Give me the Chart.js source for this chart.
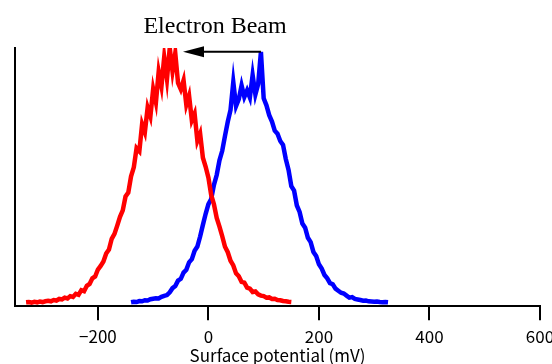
<!DOCTYPE html>
<html>
<head>
<meta charset="utf-8">
<script src="https://cdn.jsdelivr.net/npm/chart.js@4/dist/chart.umd.min.js"></script>
<style>
    html, body { margin: 0; padding: 0; background: #fff; }
    #wrap { width: 552px; height: 364px; }
</style>
</head>
<body>
<div id="wrap"><canvas id="potentialChart"></canvas></div>
<script>
// Surface potential histograms before / after electron beam

const redMv = [
    -330, -325, -320, -315, -310, -305, -300, -295, -290, -285, -280, -275, -270, -265, -260, -255,
    -250, -245, -240, -235, -230, -225, -220, -215, -210, -205, -200, -195, -190, -185, -180, -175,
    -170, -165, -160, -155, -150, -145, -140, -135, -130, -125, -120, -115, -110, -105, -100, -95,
    -90, -85, -80, -75, -70, -65, -60, -55, -50, -45, -40, -35, -30, -25, -20, -15,
    -10, -5, 0, 5, 10, 15, 20, 25, 30, 35, 40, 45, 50, 55, 60, 65,
    70, 75, 80, 85, 90, 95, 100, 105, 110, 115, 120, 125, 130, 135, 140, 145, 150
];
const redCounts = [
    1.5, 1.6, 1.4, 1.7, 1.5, 1.8, 1.6, 1.9, 2.1, 1.9, 2.4, 2.2, 2.8, 2.6, 3.3, 3.0,
    3.9, 3.6, 4.8, 4.4, 6.2, 5.8, 7.9, 8.6, 10.8, 11.5, 14.2, 15.6, 17.3, 20.4, 21.9, 26.1,
    28.0, 31.2, 34.6, 37.1, 42.5, 44.0, 50.3, 53.8, 61.2, 60.0, 70.5, 67.4, 76.9, 73.5, 84.1, 79.0,
    90.8, 85.2, 96.5, 88.0, 100.0, 91.0, 98.0, 86.5, 84.0, 87.5, 78.0, 81.5, 72.0, 74.6, 64.0, 66.8,
    57.5, 54.0, 49.8, 43.1, 39.5, 34.2, 30.8, 27.1, 23.0, 20.9, 17.6, 15.8, 12.7, 11.6, 9.4, 9.1,
    7.2, 6.8, 5.5, 5.7, 4.6, 4.1, 3.9, 3.3, 3.4, 2.8, 2.9, 2.4, 2.3, 2.0, 1.9, 1.7, 1.6
];

const blueMv = [
    -140, -135, -130, -125, -120, -115, -110, -105, -100, -95, -90, -85, -80, -75, -70, -65,
    -60, -55, -50, -45, -40, -35, -30, -25, -20, -15, -10, -5, 0, 5, 10, 15,
    20, 25, 30, 35, 40, 45, 50, 55, 60, 65, 70, 75, 80, 85, 90, 95,
    100, 105, 110, 115, 120, 125, 130, 135, 140, 145, 150, 155, 160, 165, 170, 175,
    180, 185, 190, 195, 200, 205, 210, 215, 220, 225, 230, 235, 240, 245, 250, 255,
    260, 265, 270, 275, 280, 285, 290, 295, 300, 305, 310, 315, 320, 325
];
const blueCounts = [
    1.5, 1.7, 1.6, 2.0, 1.9, 2.3, 2.2, 2.7, 2.9, 3.1, 3.0, 3.6, 4.0, 4.3, 5.4, 7.0,
    7.8, 9.9, 10.6, 13.0, 14.1, 17.0, 18.2, 21.5, 23.1, 27.0, 31.5, 35.8, 39.5, 41.5, 47.0, 50.8,
    56.5, 60.2, 66.0, 71.4, 76.0, 86.8, 77.5, 80.2, 85.5, 81.0, 83.6, 80.8, 89.5, 82.0, 86.0, 98.5,
    80.5, 77.8, 74.0, 71.5, 68.0, 66.8, 64.0, 62.5, 57.0, 52.8, 46.5, 44.8, 39.0, 36.5, 32.0, 30.4,
    26.5, 24.8, 21.0, 19.4, 16.2, 14.6, 12.1, 10.8, 8.9, 8.5, 6.8, 6.0, 5.2, 4.9, 4.1, 3.3,
    3.5, 2.8, 2.6, 2.4, 2.1, 2.2, 1.9, 1.8, 1.7, 1.8, 1.6, 1.5, 1.6, 1.5
];

const xTicks = [-200, 0, 200, 400, 600];

// arrow: from blue spike back towards red peak
const arrowFrom = { x: 95, y: 98.5 };
const arrowTo = { x: -46, y: 98.5 };
const titleText = 'Electron Beam';
const titleAtMv = 12;

function toPoints(xs, ys) {
    return xs.map((x, i) => ({ x: x, y: ys[i] }));
}

// draws the arrow and the title above the plot
const annotationPlugin = {
    id: 'beamArrow',
    afterDatasetsDraw(chart) {
        const ctx = chart.ctx;
        const xs = chart.scales.x;
        const ys = chart.scales.y;
        const x1 = xs.getPixelForValue(arrowFrom.x);
        const y1 = ys.getPixelForValue(arrowFrom.y);
        const x2 = xs.getPixelForValue(arrowTo.x);
        const y2 = ys.getPixelForValue(arrowTo.y);
        const headLen = 21;

        ctx.save();
        ctx.strokeStyle = '#000';
        ctx.fillStyle = '#000';
        ctx.lineWidth = 2;
        ctx.beginPath();
        ctx.moveTo(x1, y1);
        ctx.lineTo(x2 + headLen - 2, y2);
        ctx.stroke();
        ctx.beginPath();
        ctx.moveTo(x2, y2);
        ctx.lineTo(x2 + headLen, y2 - 5.5);
        ctx.lineTo(x2 + headLen, y2 + 5.5);
        ctx.closePath();
        ctx.fill();

        ctx.font = '24px "Liberation Serif", "Times New Roman", serif';
        ctx.textAlign = 'center';
        ctx.textBaseline = 'middle';
        ctx.fillText(titleText, xs.getPixelForValue(titleAtMv), chart.chartArea.top - 21);
        ctx.restore();
    }
};

const ctx = document.getElementById('potentialChart').getContext('2d');
const chart = new Chart(ctx, {
    type: 'line',
    data: {
        datasets: [
            {
                label: 'Before',
                data: toPoints(redMv, redCounts),
                borderColor: '#ff0000',
                borderWidth: 4.5,
                pointRadius: 0,
                tension: 0,
                fill: false
            },
            {
                label: 'After',
                data: toPoints(blueMv, blueCounts),
                borderColor: '#0000ff',
                borderWidth: 4.5,
                pointRadius: 0,
                tension: 0,
                fill: false
            }
        ]
    },
    options: {
        responsive: true,
        maintainAspectRatio: false,
        animation: false,
        layout: {
            padding: { top: 48, left: 7, right: 0, bottom: 0 }
        },
        plugins: {
            legend: { display: false },
            tooltip: { enabled: false }
        },
        scales: {
            x: {
                type: 'linear',
                min: -350,
                max: 600,
                afterBuildTicks: axis => {
                    axis.ticks = xTicks.map(v => ({ value: v }));
                },
                afterFit: axis => {
                    axis.paddingRight = 12;
                },
                grid: {
                    display: true,
                    drawOnChartArea: false,
                    drawTicks: true,
                    tickLength: 14,
                    color: '#000',
                    lineWidth: 2
                },
                border: { display: true, color: '#000', width: 2 },
                ticks: {
                    color: '#000',
                    padding: 6,
                    maxRotation: 0,
                    font: { family: '"Noto Sans CJK JP", "DejaVu Sans", sans-serif', size: 17 },
                    callback: v => v < 0 ? '\u2212' + Math.abs(v) : String(v)
                },
                title: {
                    display: true,
                    text: 'Surface potential (mV)',
                    color: '#000',
                    padding: { top: -7, bottom: -2 },
                    font: { family: '"Noto Sans CJK JP", "DejaVu Sans", sans-serif', size: 17 }
                }
            },
            y: {
                min: 0,
                max: 100,
                grid: { display: false },
                border: { display: true, color: '#000', width: 2 },
                ticks: { display: false }
            }
        }
    },
    plugins: [annotationPlugin]
});
</script>
</body>
</html>
